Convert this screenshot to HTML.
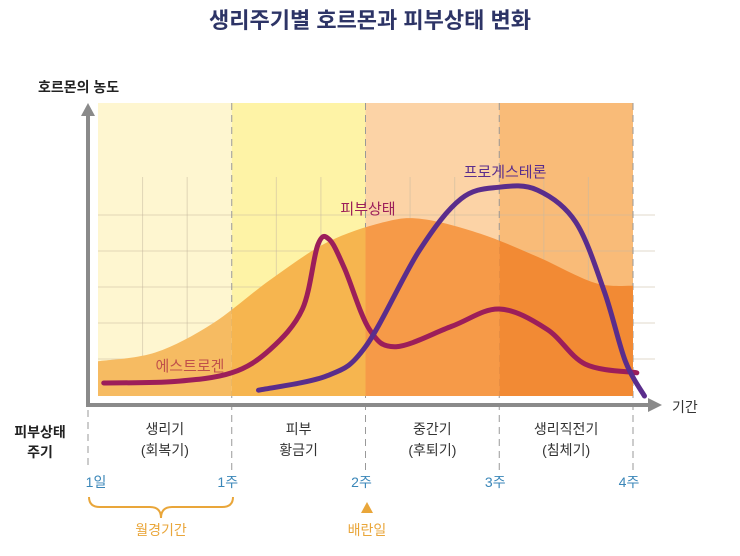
<!DOCTYPE html>
<html><head><meta charset="utf-8"><style>
body{margin:0;width:740px;height:556px;background:#fff;overflow:hidden;font-family:"Liberation Sans","Noto Sans CJK KR",sans-serif}
svg{display:block}
text{font-family:"Liberation Sans","Noto Sans CJK KR",sans-serif}
</style></head><body>
<svg id="c" width="740" height="556">
<text x="370" y="28" text-anchor="middle" font-size="22" font-weight="bold" fill="#2d3466">생리주기별 호르몬과 피부상태 변화</text>
<text x="38" y="92" font-size="14" font-weight="bold" fill="#222">호르몬의 농도</text>
<g id="bg"></g><g id="grid"></g><g id="est"></g><g id="lines"></g>
<line x1="88" y1="112" x2="88" y2="405" stroke="#8a8a8a" stroke-width="4"/>
<polygon points="81,116 95,116 88,103" fill="#8a8a8a"/>
<line x1="86" y1="405" x2="650" y2="405" stroke="#8a8a8a" stroke-width="4"/>
<polygon points="648,398 662,405 648,412" fill="#8a8a8a"/>
<text x="672" y="412" font-size="14" fill="#333">기간</text>
<text x="40" y="437" text-anchor="middle" font-size="14" font-weight="bold" fill="#222"><tspan x="40">피부상태</tspan><tspan x="40" dy="20">주기</tspan></text>
<g id="labels"></g>
<path d="M89,497 Q89,507 100,507 L150,507 Q161,507 161,518 Q161,507 172,507 L222,507 Q233,507 233,497" fill="none" stroke="#e9a63a" stroke-width="2"/>
<text x="161" y="535" text-anchor="middle" font-size="14" fill="#e9a63a">월경기간</text>
<polygon points="361,513 373,513 367,502" fill="#e9a63a"/>
<text x="367" y="535" text-anchor="middle" font-size="14" fill="#e9a63a">배란일</text>
</svg>
<script>
const phaseNames=[["생리기","(회복기)"],["피부","황금기"],["중간기","(후퇴기)"],["생리직전기","(침체기)"]];
const weekLabels=["1일","1주","2주","3주","4주"];
const weekDays=[0,7,14,21,28];
const estrogenDays=[0,3,6,9,12,15,17,20,23,26,28];
const estrogenVals=[12,15,25,40,53,60,61,56,48,39,38];
const skinDays=[0.3,4,7,9,10.7,11.5,12.1,12.9,14.2,15.6,18.5,21,23.5,25.5,28.2];
const skinVals=[4.5,5,8,16,30,52,54,44,23,17,24,30,23,11,8];
const progDays=[8.4,12,14,16.8,19,21,23,25,26.5,27.6,28.6];
const progVals=[2,7,17,50,68,72,71,60,36,12,0];
const X=d=>98+d*535/28, Y=v=>396-v*2.9;
const NS="http://www.w3.org/2000/svg";
function mk(t,a,p){const e=document.createElementNS(NS,t);for(const k in a)e.setAttribute(k,a[k]);p.appendChild(e);return e;}
function smooth(pts){let d=`M${pts[0][0]},${pts[0][1]}`;for(let i=0;i<pts.length-1;i++){const p0=pts[i-1]||pts[i],p1=pts[i],p2=pts[i+1],p3=pts[i+2]||p2;d+=` C${p1[0]+(p2[0]-p0[0])/6},${p1[1]+(p2[1]-p0[1])/6} ${p2[0]-(p3[0]-p1[0])/6},${p2[1]-(p3[1]-p1[1])/6} ${p2[0]},${p2[1]}`;}return d;}
const bgc=["#fef6d0","#fef3a6","#fcd3a6","#f9bb78"],estc=["#f6bb62","#f6b54f","#f69a48","#f28a34"];
const bg=document.getElementById('bg'),grid=document.getElementById('grid'),est=document.getElementById('est'),lines=document.getElementById('lines'),labels=document.getElementById('labels');
for(let i=0;i<4;i++){const r=mk('rect',{x:X(weekDays[i]),y:103,width:X(weekDays[i+1])-X(weekDays[i]),height:293,fill:bgc[i]},bg);

}
const clip=mk('clipPath',{id:'ec'},est);
const ep=estrogenDays.map((d,i)=>[X(d),Y(estrogenVals[i])]);
mk('path',{d:smooth(ep)+` L${X(28)},396 L${X(0)},396 Z`},clip);
for(let i=0;i<4;i++){const r=mk('rect',{x:X(weekDays[i]),y:103,width:X(weekDays[i+1])-X(weekDays[i]),height:293,fill:estc[i],'clip-path':'url(#ec)'},est);

}
for(let i=0;i<5;i++){const y=215+i*36;mk('line',{x1:98,x2:655,y1:y,y2:y,stroke:'#c9b9a0','stroke-opacity':0.55,'stroke-width':1},grid);}
for(let w=0;w<4;w++)for(let k=1;k<3;k++){const x=X(weekDays[w]+k*7/3);mk('line',{x1:x,x2:x,y1:177,y2:396,stroke:'#c9b9a0','stroke-opacity':0.55,'stroke-width':1},grid);}
for(let i=0;i<5;i++){const x=i==0?88:X(weekDays[i]);const l=mk('line',{x1:x,x2:x,y1:i==0?410:103,y2:470,stroke:'#999','stroke-width':1,'stroke-dasharray':'7,5'},grid);

}
const sk=mk('path',{d:smooth(skinDays.map((d,i)=>[X(d),Y(skinVals[i])])),fill:'none',stroke:'#9c1e5a','stroke-width':5,'stroke-linecap':'round'},lines);


const pg=mk('path',{d:smooth(progDays.map((d,i)=>[X(d),Y(progVals[i])])),fill:'none',stroke:'#5a2d8c','stroke-width':5,'stroke-linecap':'round'},lines);


function txt(s,x,y,sz,fill,name,p){const t=mk('text',{x:x,y:y,'font-size':sz,fill:fill,'text-anchor':'middle'},p);t.textContent=s;

return t;}
txt('에스트로겐',190,371,15,'#c0504a','estrogen-label',lines);
txt('피부상태',368,214,15,'#9c1e5a','skin-condition-label',lines);
txt('프로게스테론',505,177,15,'#5a2d8c','progesterone-label',lines);
for(let i=0;i<4;i++){const cx=(X(weekDays[i])+X(weekDays[i+1]))/2;txt(phaseNames[i][0],cx,434,14,'#333','phase-name',labels);txt(phaseNames[i][1],cx,455,14,'#333','phase-subname',labels);}
weekLabels.forEach((s,i)=>{const x=i==0?96:X(weekDays[i])-4;txt(s,x,487,14,'#3a86b8','week-tick-label',labels);});
</script>
</body></html>
